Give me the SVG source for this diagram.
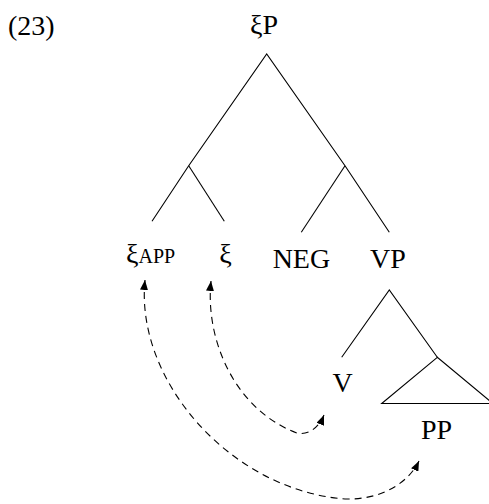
<svg xmlns="http://www.w3.org/2000/svg" width="489" height="504" viewBox="0 0 489 504">
<style>
text{font-family:"Liberation Serif","Times New Roman",serif;font-size:28px;fill:#000}
.sm{font-size:20px}
.br{stroke:#000;stroke-width:1.1;fill:none}
.mv{stroke:#000;stroke-width:1.1;fill:none;stroke-dasharray:7 5;marker-start:url(#ah);marker-end:url(#ah)}
</style>
<defs>
<marker id="ah" markerUnits="userSpaceOnUse" markerWidth="11" markerHeight="8" refX="10" refY="4" orient="auto-start-reverse">
<path d="M0,0 L10,4 L0,8 z" fill="#000" stroke="none"/>
</marker>
</defs>
<rect width="489" height="504" fill="#fff"/>
<text id="label" x="8" y="35">(23)</text>
<g id="xiP"><text x="264" y="34" text-anchor="middle">ξP</text></g>
<g id="xiApp"><text x="126" y="263">ξ<tspan class="sm">APP</tspan></text></g>
<g id="xi"><text x="225.5" y="263" text-anchor="middle">ξ</text></g>
<g id="neg"><text x="301.4" y="268" text-anchor="middle">NEG</text></g>
<g id="vp"><text x="388" y="268" text-anchor="middle">VP</text></g>
<g id="v"><text x="342.5" y="392" text-anchor="middle">V</text></g>
<g id="pp"><text x="436.5" y="439" text-anchor="middle">PP</text><polygon class="br" points="437.3,357.3 381.7,403.5 493,403.5"/></g>
<g id="connectors">
<polyline class="br" points="152,221.3 188.7,165.7 266.7,54 345,165.7 389.3,232.3"/>
<line class="br" x1="188.7" y1="165.7" x2="224.3" y2="221.3"/>
<line class="br" x1="345" y1="165.7" x2="301.3" y2="232.3"/>
<polyline class="br" points="341.7,357.3 389.3,290 437.3,357.3"/>
<path class="mv" d="M211,281 C205,340 235,410 297,433 C310,436 320,425 324,415"/>
<path class="mv" d="M145,280 C135,380 230,490 345,499 C385,500 410,480 419,461"/>
</g>
</svg>
